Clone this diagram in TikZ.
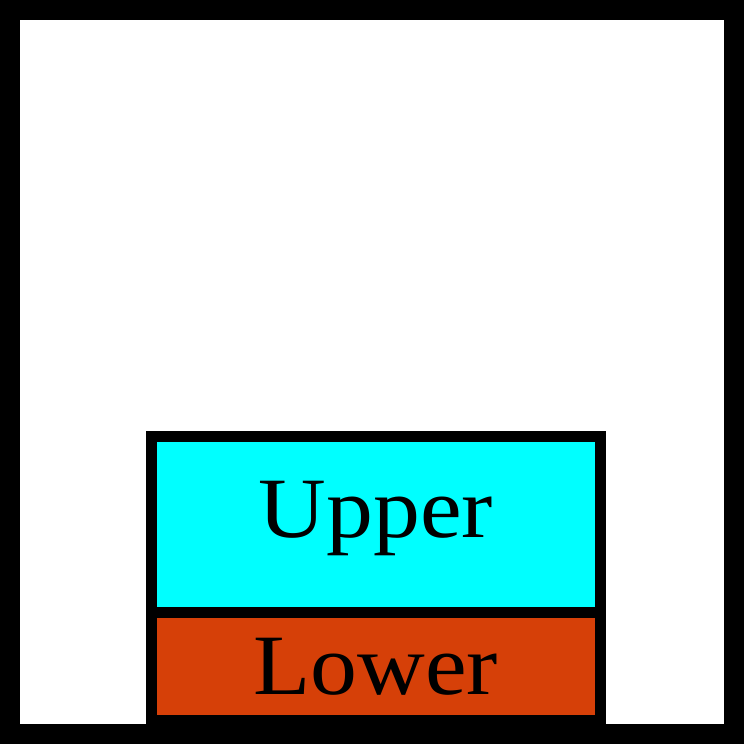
\documentclass[tikz,border=0pt]{standalone}
\usepackage{fontspec}
\setmainfont{Liberation Serif}
\definecolor{lowerred}{RGB}{214,64,8}
\definecolor{uppercyan}{RGB}{0,255,255}
\begin{document}
\begin{tikzpicture}[x=1pt,y=1pt,
  box/.style={draw=black, line width=11pt, inner sep=0pt, outer sep=0pt, minimum width=449.5pt},
  lbl/.style={inner sep=0pt, xscale=1.09, font=\fontsize{86}{86}\selectfont}]
\useasboundingbox (0,0) rectangle (744,744);
\fill[white] (0,0) rectangle (744,744);
\node[box, fill=uppercyan, minimum height=176pt] (upper) at (375.75,219) {};
\node[box, fill=lowerred, minimum height=107.5pt] (lower) at (375.75,77.25) {};
\node[lbl, anchor=base] (uppertext) at ([yshift=-13pt]upper.center) {Upper};
\node[lbl, anchor=base] (lowertext) at ([yshift=-28.25pt]lower.center) {Lower};
\draw[line width=20pt] (10,10) rectangle (734,734);
\end{tikzpicture}
\end{document}
